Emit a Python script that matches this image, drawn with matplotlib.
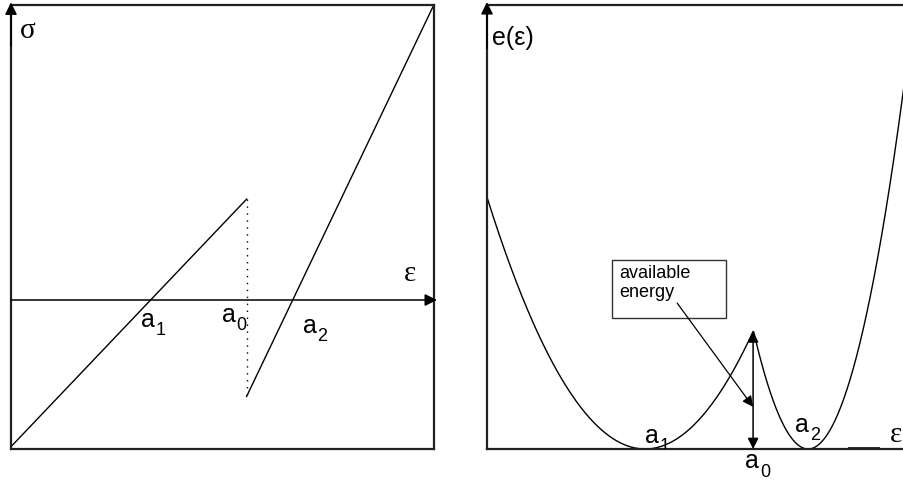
import numpy as np
import matplotlib.pyplot as plt
from matplotlib.patches import Rectangle

plt.rcParams['font.family'] = ['Liberation Sans', 'DejaVu Sans']

# stress-strain sketch (left)
a1 = 3.3
a0 = 5.57
a2 = 6.66
k1 = 1.05
k2 = 2.09
eps_max = 10.0

# energy sketch (right)
a1_e = 3.79
a0_e = 6.38
a2_e = 7.70
c1 = 0.4205
c2 = 1.65
eps_max_e = 10.19

subs_left = ['1', '0', '2']
box_text = 'available\nenergy'

W, H = 904, 488
fig = plt.figure(figsize=(W / 100, H / 100), dpi=100)


def sub_label(ax, x, y, digit, clip=False):
    # letter a with a large subscript digit, as in the sketch
    t = ax.text(x, y, 'a', fontsize=18, ha='left', va='baseline')
    d = ax.annotate(digit, xy=(x, y), xytext=(10.5, -6), textcoords='offset points',
                    fontsize=13, ha='left', va='baseline', annotation_clip=False)
    if clip:
        t.set_clip_path(ax.patch)
        d.set_clip_path(ax.patch)
    else:
        t.set_clip_on(False)
        d.set_clip_on(False)


# ---------- left panel ----------
ax1 = fig.add_axes([11 / W, (H - 449) / H, 423 / W, 444 / H])
ax1.set_xlim(0, eps_max)
ax1.set_ylim(-3.52, 6.97)

e1 = np.linspace(0, a0, 50)
e2 = np.linspace(a0, eps_max, 50)
ax1.plot(e1, k1 * (e1 - a1), color='k', lw=1)
ax1.plot(e2, k2 * (e2 - a2), color='k', lw=1)
ax1.plot([a0, a0], [k1 * (a0 - a1), k2 * (a0 - a2)], color='k', lw=1, ls=(0, (1, 4)))

ax1.annotate('', xy=(10.07, 0), xytext=(0, 0),
             arrowprops=dict(arrowstyle='-|>', lw=1.1, color='k', mutation_scale=18,
                             shrinkA=0, shrinkB=0), annotation_clip=False)
ax1.annotate('', xy=(0, 7.03), xytext=(0, 6.0),
             arrowprops=dict(arrowstyle='-|>', lw=1.1, color='k', mutation_scale=18,
                             shrinkA=0, shrinkB=0), annotation_clip=False)

ax1.text(0.40, 6.36, 'σ', fontsize=21, ha='center', va='center',
         family=['Liberation Serif', 'DejaVu Serif'])
ax1.text(9.43, 0.61, 'ε', fontsize=21, ha='center', va='center',
         family=['Liberation Serif', 'DejaVu Serif'])
for dg, x, y in zip(subs_left, [3.07, 4.99, 6.90], [-0.64, -0.52, -0.78]):
    sub_label(ax1, x, y, dg)

# ---------- right panel ----------
ax2 = fig.add_axes([487 / W, (H - 449) / H, 425 / W, 444 / H])
ax2.set_xlim(0, eps_max_e)
ax2.set_ylim(0, 10.65)

xe = np.linspace(0, eps_max_e, 600)
energy = np.minimum(c1 * (xe - a1_e) ** 2, c2 * (xe - a2_e) ** 2)
ax2.plot(xe, energy, color='k', lw=1)

peak = min(c1 * (a0_e - a1_e) ** 2, c2 * (a0_e - a2_e) ** 2)
ax2.annotate('', xy=(a0_e, peak), xytext=(a0_e, 0),
             arrowprops=dict(arrowstyle='<|-|>', lw=1.1, color='k', mutation_scale=16,
                             shrinkA=0, shrinkB=0))
ax2.annotate('', xy=(a0_e, 1.01), xytext=(4.56, 3.50),
             arrowprops=dict(arrowstyle='-|>', lw=0.9, color='k', mutation_scale=16,
                             shrinkA=0, shrinkB=0))
ax2.add_patch(Rectangle((3.0, 3.14), 2.73, 1.39, fill=False, lw=1, ec='#333333'))
ax2.text(3.17, 4.42, box_text, fontsize=13, ha='left', va='top', linespacing=1.15)

ax2.plot([8.66, 9.42], [0, 0], color='k', lw=2.6, solid_capstyle='butt')

ax2.annotate('', xy=(0, 10.72), xytext=(0, 9.6),
             arrowprops=dict(arrowstyle='-|>', lw=1.1, color='k', mutation_scale=18,
                             shrinkA=0, shrinkB=0), annotation_clip=False)

ax2.text(0.12, 9.86, 'e(ε)', fontsize=18, ha='left', va='center')
sub_label(ax2, 3.79, 0.14, '1', clip=True)
sub_label(ax2, 7.39, 0.41, '2')
sub_label(ax2, 6.19, -0.46, '0')
ax2.text(9.66, 0.17, 'ε', fontsize=21, ha='left', va='baseline',
         family=['Liberation Serif', 'DejaVu Serif'])

for ax in (ax1, ax2):
    ax.set_xticks([])
    ax.set_yticks([])
    for s in ax.spines.values():
        s.set_linewidth(1.6)
        s.set_color('#222222')

fig.savefig('out.png', dpi=100)
